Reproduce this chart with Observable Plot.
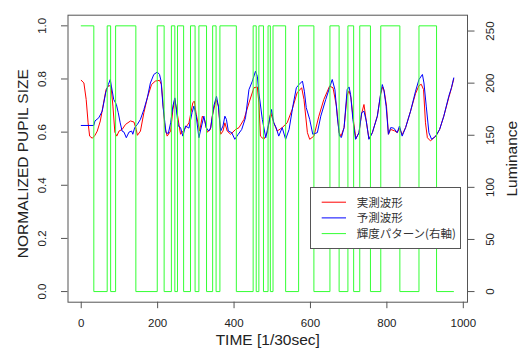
<!DOCTYPE html>
<html><head><meta charset="utf-8">
<script src="https://cdn.jsdelivr.net/npm/d3@7"></script>
<script src="https://cdn.jsdelivr.net/npm/@observablehq/plot@0.6"></script>
<style>
body{margin:0;background:#fff;}
#wrap{position:relative;width:521px;height:352px;overflow:hidden;font-family:"Liberation Sans",Arial,sans-serif;background:#fff;}
#legend{position:absolute;left:310px;top:186.5px;width:151px;height:62px;box-sizing:border-box;border:1px solid #555;background:#fff;}
#legend svg{display:block;}
</style></head><body><div id="wrap"></div>
<script>
// measured pupil size (red)
const redT = [0,7,13,18,22,29,36,42,50,57,65,72,78,83,88,93,99,107,116,129,138,144,147,155,164,173,184,194,205,210,214,219,225,234,240,245,251,260,270,282,292,296,301,310,317,323,330,338,343,353,359,365,371,376,382,391,404,413,426,439,452,461,465,469,478,487,496,504,513,526,539,552,565,577,583,592,598,609,622,635,650,659,668,675,680,688,696,701,706,712,719,727,734,740,746,753,762,775,784,789,793,799,804,810,820,827,833,840,849,862,875,884,890,896,901,906,914,928,938,949,962,969,975];
const redV = [0.795,0.785,0.723,0.635,0.585,0.577,0.588,0.604,0.642,0.698,0.76,0.775,0.773,0.698,0.6,0.585,0.604,0.61,0.629,0.642,0.638,0.61,0.588,0.604,0.673,0.729,0.779,0.792,0.795,0.779,0.71,0.617,0.585,0.604,0.685,0.723,0.673,0.592,0.61,0.635,0.71,0.717,0.667,0.604,0.66,0.645,0.6,0.61,0.66,0.723,0.698,0.592,0.604,0.635,0.604,0.592,0.61,0.617,0.648,0.71,0.767,0.77,0.71,0.585,0.573,0.598,0.673,0.635,0.604,0.617,0.635,0.685,0.748,0.767,0.723,0.598,0.573,0.585,0.66,0.723,0.773,0.767,0.698,0.598,0.585,0.617,0.74,0.755,0.73,0.648,0.575,0.598,0.67,0.704,0.642,0.575,0.598,0.66,0.745,0.77,0.755,0.698,0.592,0.61,0.605,0.598,0.615,0.59,0.617,0.679,0.745,0.775,0.78,0.76,0.635,0.579,0.567,0.585,0.61,0.66,0.73,0.765,0.80];
// predicted pupil size (blue)
const blueT = [0,33,36,46,55,64,71,76,79,85,92,97,102,107,112,118,125,132,135,140,147,155,164,173,181,190,199,205,209,214,219,222,228,234,240,245,249,254,260,266,273,282,290,295,301,308,315,321,327,334,339,347,354,359,365,371,376,380,385,394,402,411,420,430,439,448,456,461,465,474,483,491,498,504,510,517,526,535,544,554,563,570,579,584,589,598,606,618,627,640,650,657,664,670,676,681,688,696,701,705,711,718,727,734,740,746,753,762,775,784,788,792,798,804,810,818,827,833,840,849,862,875,884,893,897,903,910,917,928,938,949,962,969,975];
const blueV = [0.625,0.625,0.642,0.654,0.679,0.748,0.779,0.798,0.773,0.723,0.704,0.673,0.635,0.604,0.60,0.579,0.6,0.604,0.592,0.617,0.629,0.648,0.685,0.729,0.785,0.817,0.826,0.817,0.792,0.698,0.635,0.598,0.595,0.635,0.698,0.729,0.685,0.623,0.617,0.585,0.623,0.615,0.673,0.698,0.66,0.579,0.623,0.66,0.617,0.604,0.617,0.698,0.735,0.698,0.604,0.623,0.66,0.648,0.604,0.598,0.573,0.592,0.61,0.654,0.76,0.792,0.829,0.81,0.748,0.648,0.579,0.635,0.685,0.635,0.617,0.585,0.617,0.573,0.61,0.698,0.767,0.779,0.792,0.754,0.692,0.648,0.592,0.598,0.66,0.723,0.767,0.798,0.76,0.66,0.585,0.58,0.617,0.76,0.77,0.742,0.648,0.573,0.598,0.673,0.679,0.642,0.573,0.598,0.66,0.748,0.779,0.76,0.698,0.592,0.617,0.615,0.598,0.623,0.585,0.617,0.679,0.754,0.798,0.817,0.785,0.698,0.598,0.573,0.585,0.61,0.66,0.735,0.767,0.804];
// luminance pattern (right axis), switching times and levels
const lumT = [0,33,68,77,90,143,199,217,236,245,252,268,286,298,308,328,344,353,363,406,450,458,465,477,489,495,502,535,569,609,651,675,698,713,729,757,784,834,884,930,975];
const lumV = [255,0,255,0,255,0,255,0,255,0,255,0,255,0,255,0,255,0,255,0,255,0,255,0,255,0,255,0,255,0,255,0,255,0,255,0,255,0,255,0,0];
const xTicks = [0,200,400,600,800,1000];
const yTicks = [0,0.2,0.4,0.6,0.8,1.0];
const lumTicks = [0,50,100,150,200,250];
const lumMax = 255;
const xTitle = "TIME [1/30sec]";
const yTitle = "NORMALIZED PUPIL SIZE";
const y2Title = "Luminance";
const legendLabels = ["実測波形","予測波形","輝度パターン(右軸)"];
const legendColors = ["#ff0000","#0000ff","#33ff33"];

const red = redT.map((t,i)=>({t, v: redV[i]}));
const blue = blueT.map((t,i)=>({t, v: blueV[i]}));
const lum = lumT.map((t,i)=>({t, v: lumV[i]/lumMax}));

const fTick = 11.5, fTitle = 15.5, axisCol = "#555", textCol = "#222";

const chart = Plot.plot({
  width:521, height:352,
  marginLeft:67.5, marginRight:54, marginTop:14.7, marginBottom:50.3,
  style:{fontFamily:'"Liberation Sans",Arial,sans-serif', background:"white", overflow:"visible"},
  x:{domain:[-34.6,1011]},
  y:{domain:[-0.04,1.04]},
  marks:[
    Plot.line(red,{x:"t",y:"v",stroke:legendColors[0],strokeWidth:1}),
    Plot.line(blue,{x:"t",y:"v",stroke:legendColors[1],strokeWidth:1}),
    Plot.line(lum,{x:"t",y:"v",stroke:legendColors[2],strokeWidth:1,curve:"step-after"}),
    Plot.frame({stroke:axisCol}),
    Plot.axisX({ticks:xTicks, tickSize:6.5, tickPadding:10.5, tickFormat:d=>String(d), fontSize:fTick, stroke:axisCol, fill:textCol, label:null}),
    Plot.axisY({ticks:yTicks, tickSize:6.5, tickFormat:()=>"", stroke:axisCol, label:null}),
    Plot.axisY({anchor:"right", ticks:lumTicks.map(v=>v/lumMax), tickSize:6.5, tickFormat:()=>"", stroke:axisCol, label:null}),
    Plot.text(yTicks,{y:d=>d, text:d=>d.toFixed(1), frameAnchor:"left", textAnchor:"middle", dx:-25.8, rotate:-90, fontSize:fTick, fill:textCol}),
    Plot.text(lumTicks,{y:d=>d/lumMax, text:d=>String(d), frameAnchor:"right", textAnchor:"middle", dx:23, rotate:-90, fontSize:fTick, fill:textCol}),
    Plot.text([xTitle],{frameAnchor:"bottom", textAnchor:"middle", dy:43, fontSize:fTitle, fill:textCol}),
    Plot.text([yTitle],{frameAnchor:"left", textAnchor:"middle", dx:-44.5, dy:5, rotate:-90, fontSize:fTitle, fill:textCol}),
    Plot.text([y2Title],{frameAnchor:"right", textAnchor:"middle", dx:44.5, rotate:-90, fontSize:fTitle, fill:textCol})
  ]
});
const wrap = document.getElementById("wrap");
wrap.appendChild(chart);

// legend
const lg = document.createElement("div");
lg.id = "legend";
const ns = "http://www.w3.org/2000/svg";
const svg = document.createElementNS(ns,"svg");
svg.setAttribute("width","149"); svg.setAttribute("height","60");
legendLabels.forEach((lab,i)=>{
  const cy = 14.2 + i*15.7;
  const ln = document.createElementNS(ns,"line");
  ln.setAttribute("x1",10.7); ln.setAttribute("x2",35); ln.setAttribute("y1",cy); ln.setAttribute("y2",cy);
  ln.setAttribute("stroke",legendColors[i]); ln.setAttribute("stroke-width",1);
  svg.appendChild(ln);
  const tx = document.createElementNS(ns,"text");
  tx.setAttribute("x",45.7); tx.setAttribute("y",cy+4.3);
  tx.setAttribute("font-size","11.5");
  tx.setAttribute("font-family",'"Noto Sans CJK JP","Liberation Sans",sans-serif');
  tx.setAttribute("fill","#333");
  tx.textContent = lab;
  svg.appendChild(tx);
});
lg.appendChild(svg);
wrap.appendChild(lg);
</script>
</body></html>
